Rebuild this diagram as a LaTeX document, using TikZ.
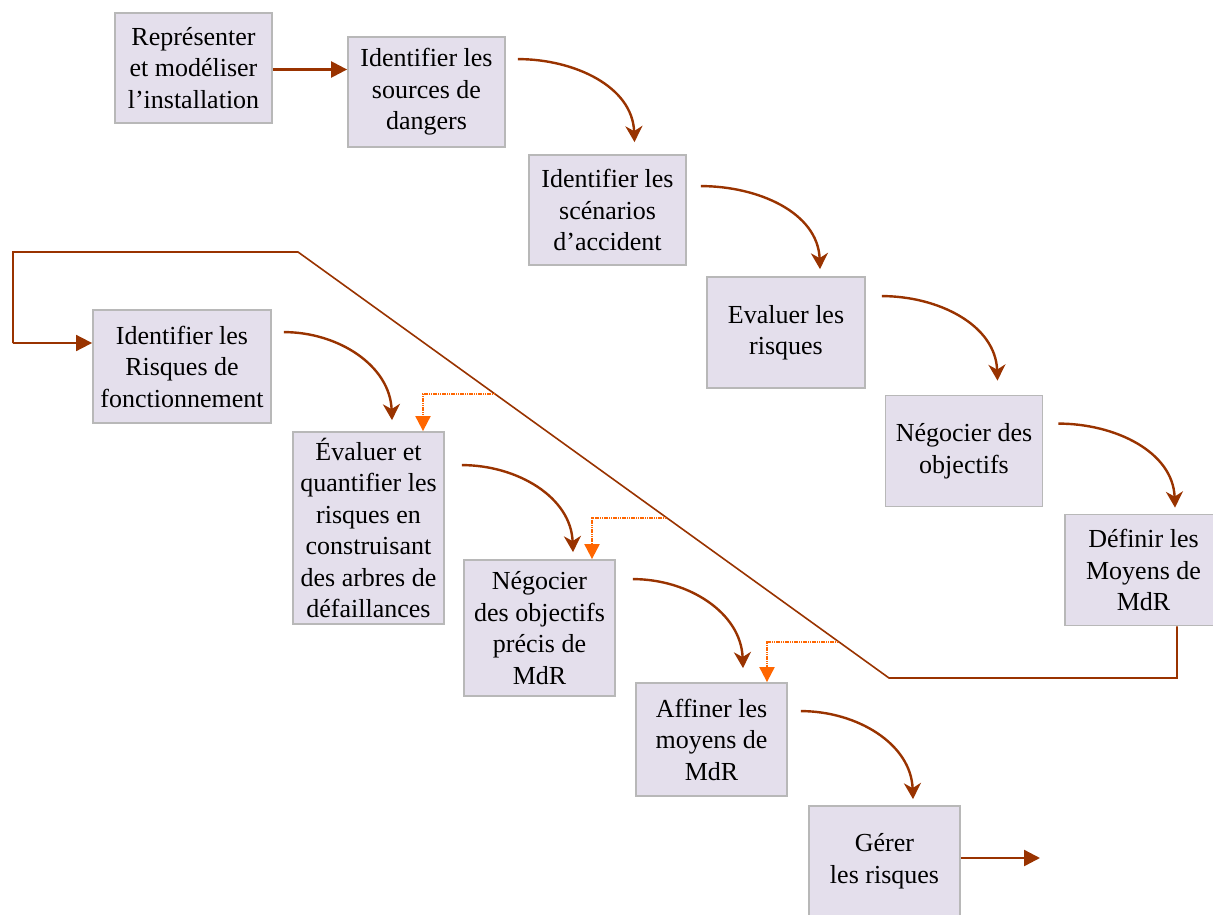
\documentclass[tikz,border=0pt]{standalone}
\usepackage{fontspec}
\setmainfont{Liberation Serif}
\usetikzlibrary{arrows.meta,calc}
\definecolor{boxfill}{RGB}{228,223,236}
\definecolor{boxline}{RGB}{184,184,184}
\definecolor{brn}{RGB}{153,51,0}
\definecolor{org}{RGB}{255,102,0}
\tikzset{
  stepbox/.style={draw=boxline, line width=1.8pt, fill=boxfill, inner sep=0pt,
    align=center, font=\fontsize{26}{31.5}\selectfont},
  curvearrow/.style={draw=brn, line width=2.4pt,
    -{Stealth[length=16pt,width=17pt,inset=5pt]}},
  strarrow/.style={draw=brn, line width=2.4pt, -{Triangle[length=16pt,width=16pt]}},
  fbline/.style={draw=brn, line width=1.6pt},
  orgarrow/.style={draw=org, line width=2pt, dash pattern=on 1.2pt off 0.6pt,
    -{Triangle[length=15pt,width=15pt]}},
}
\begin{document}
\begin{tikzpicture}[x=1pt,y=1pt]
\useasboundingbox (0,0) rectangle (1213,-915);
% boxes
\node[stepbox, minimum width=157pt, minimum height=110pt] (b1) at (193.5,-68) {Représenter\\et modéliser\\l’installation};
\node[stepbox, minimum width=157pt, minimum height=110pt] (b2) at (426.5,-92) {Identifier les\\sources de\\dangers};
\node[stepbox, minimum width=157pt, minimum height=110pt] (b3) at (607.5,-210) {Identifier les\\scénarios\\d’accident};
\node[stepbox, minimum width=158pt, minimum height=111pt] (b4) at (786,-332.5) {Evaluer les\\risques};
\node[stepbox, minimum width=157pt, minimum height=111pt] (b5) at (964,-451) {Négocier des\\objectifs};
\node[stepbox, minimum width=157pt, minimum height=111pt] (b6) at (1143.5,-570) {Définir les\\Moyens de\\MdR};
\node[stepbox, minimum width=178pt, minimum height=113pt] (b7) at (182,-366.5) {Identifier les\\Risques de\\fonctionnement};
\node[stepbox, minimum width=151pt, minimum height=192pt] (b8) at (368.5,-528) {Évaluer et\\quantifier les\\risques en\\construisant\\des arbres de\\défaillances};
\node[stepbox, minimum width=151pt, minimum height=136pt] (b9) at (539.5,-628) {Négocier\\des objectifs\\précis de\\MdR};
\node[stepbox, minimum width=151pt, minimum height=113pt] (b10) at (711.5,-739.5) {Affiner les\\moyens de\\MdR};
\node[stepbox, minimum width=151pt, minimum height=110pt] (b11) at (884.5,-861) {Gérer\\les risques};

% straight arrows
\draw[strarrow] ([yshift=-1.5pt]b1.east) -- ([yshift=-1.5pt]b1.east -| b2.west);
\coordinate (endpt) at (1040,-858);
\draw[strarrow] (b11.east |- endpt) -- (endpt);

% curved arrows
\draw[curvearrow] ([xshift=12pt,yshift=-23pt]b2.north east) to[out=0,in=92] ([xshift=27pt,yshift=12pt]b3.north);
\draw[curvearrow] ([xshift=14pt,yshift=-32pt]b3.north east) to[out=0,in=92] ([xshift=34pt,yshift=7pt]b4.north);
\draw[curvearrow] ([xshift=16pt,yshift=-20pt]b4.north east) to[out=0,in=92] ([xshift=33.5pt,yshift=14pt]b5.north);
\draw[curvearrow] ([xshift=15pt,yshift=-29pt]b5.north east) to[out=0,in=92] ([xshift=31.5pt,yshift=6pt]b6.north);
\draw[curvearrow] ([xshift=12pt,yshift=-23pt]b7.north east) to[out=0,in=92] ([xshift=23.5pt,yshift=11pt]b8.north);
\draw[curvearrow] ([xshift=17pt,yshift=-34pt]b8.north east) to[out=0,in=92] ([xshift=33.5pt,yshift=7pt]b9.north);
\draw[curvearrow] ([xshift=17pt,yshift=-20pt]b9.north east) to[out=0,in=92] ([xshift=31.5pt,yshift=14pt]b10.north);
\draw[curvearrow] ([xshift=13pt,yshift=-29pt]b10.north east) to[out=0,in=92] ([xshift=28.5pt,yshift=6pt]b11.north);

% feedback loop
\coordinate (fb1) at (1177,-678);
\coordinate (fb2) at (889,-678);
\coordinate (fb3) at (298,-252);
\coordinate (fb4) at (13,-252);
\coordinate (fb5) at (13,-343);
\draw[fbline] (b6.south -| fb1) -- (fb1) -- (fb2) -- (fb3) -- (fb4) -- (fb5);
\draw[strarrow, line width=1.8pt] (fb5) -- (b7.west |- fb5);

% orange dotted branches
\coordinate (o1) at (495,-394);
\coordinate (o2) at (666,-518);
\coordinate (o3) at (838,-642);
\draw[orgarrow] (o1) -| ([xshift=54.5pt]b8.north);
\draw[orgarrow] (o2) -| ([xshift=52.5pt]b9.north);
\draw[orgarrow] (o3) -| ([xshift=55.5pt]b10.north);
\end{tikzpicture}
\end{document}
